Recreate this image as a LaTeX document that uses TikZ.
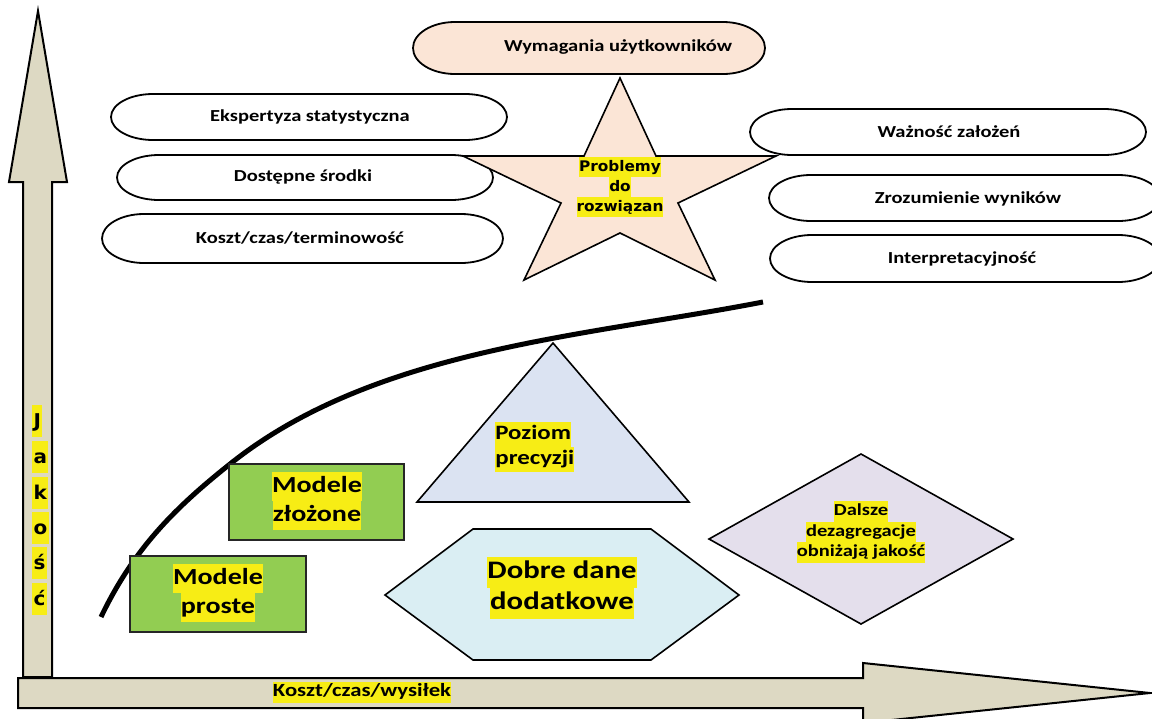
\documentclass[tikz,border=0pt]{standalone}
\usepackage{fontspec}
\newfontfamily\calfont[FakeStretch=1.22]{Carlito}
\newfontfamily\verfont[FakeStretch=1.05]{DejaVu Sans}
\definecolor{axisfill}{RGB}{221,217,195}
\definecolor{peach}{RGB}{251,229,214}
\definecolor{grn}{RGB}{146,205,82}
\definecolor{tric}{RGB}{219,227,242}
\definecolor{hexc}{RGB}{218,238,243}
\definecolor{diac}{RGB}{228,223,236}
\definecolor{hl}{RGB}{247,237,21}
\setlength\fboxsep{0pt}
\newcommand\hlt[1]{\colorbox{hl}{\strut #1}}
\newcommand\ovalpath[5]{%
  \filldraw[ovalline, fill=#5] ({#1+42},#2) -- ({#3-42},#2)
    arc[start angle=-90, end angle=90, x radius=42, y radius={(#4-#2)/2}]
    -- ({#1+42},#4)
    arc[start angle=90, end angle=270, x radius=42, y radius={(#4-#2)/2}]
    -- cycle;}
\tikzset{
  ovalline/.style={draw=black, line width=0.9pt},
  shapeline/.style={draw=black, line width=0.8pt},
  boxline/.style={draw=black!85, line width=1pt},
  axisline/.style={draw=black, line width=1pt, line join=miter},
  ovaltext/.style={inner sep=0pt, font=\calfont\bfseries\fontsize{8.4}{10}\selectfont},
  startext/.style={inner sep=0pt, align=center, font=\verfont\bfseries\fontsize{7.3}{10}\selectfont},
  modeltext/.style={inner sep=0pt, align=center, font=\calfont\bfseries\fontsize{11.5}{14.5}\selectfont},
  jletter/.style={inner xsep=0.6pt, inner ysep=0pt, fill=hl, text height=11pt, text depth=5pt, anchor=west, font=\verfont\bfseries\fontsize{9.5}{11}\selectfont},
}
\begin{document}
\begin{tikzpicture}[x=0.5pt, y=-0.5pt]
\useasboundingbox (0,0) rectangle (1152,718);
\clip (0,0) rectangle (1152,718);
\fill[white] (0,0) rectangle (1152,718);

% axes
\filldraw[axisline, fill=axisfill] (23,677) -- (23,182) -- (9,182) -- (38,11) -- (67,182) -- (52,182) -- (52,677) -- cycle;
\filldraw[axisline, fill=axisfill] (18,678) -- (863,678) -- (863,663) -- (1150,693) -- (863,723) -- (863,708) -- (18,708) -- cycle;
\node[inner sep=0pt, font=\calfont\bfseries\fontsize{9.3}{10.5}\selectfont] (xlab) at (362,692.5) {\hlt{Koszt/czas/wysiłek}};
\node[jletter] (j1) at (32,421) {J};
\node[jletter] (j2) at (32,457) {a};
\node[jletter] (j3) at (32,493) {k};
\node[jletter] (j4) at (32,528) {o};
\node[jletter] (j5) at (32,563) {ś};
\node[jletter] (j6) at (32,599) {ć};

% ovals
\ovalpath{413}{22}{765}{74}{peach}
\node[ovaltext] (wym) at (618,47) {Wymagania użytkowników};
\ovalpath{111}{94}{507}{140}{white}
\node[ovaltext] (eks) at (310,117) {Ekspertyza statystyczna};
\ovalpath{117}{155}{493}{200}{white}
\node[ovaltext] (dos) at (303,177) {Dostępne środki};
\ovalpath{102}{214}{503}{263}{white}
\node[ovaltext] (kos) at (300,238) {Koszt/czas/terminowość};
\ovalpath{750}{109}{1146}{155}{white}
\node[ovaltext] (waz) at (949,132) {Ważność założeń};
\ovalpath{769}{175}{1160}{221}{white}
\node[ovaltext] (zro) at (968,199) {Zrozumienie wyników};
\ovalpath{770}{235}{1160}{282}{white}
\node[ovaltext] (int) at (962,259) {Interpretacyjność};

% star
\filldraw[shapeline, fill=peach] (620,78) -- (656,156) -- (776,156) -- (678,203) -- (715,280) -- (620,233) -- (524,280) -- (561,203) -- (463,156) -- (584,156) -- cycle;
\node[startext] (prob) at (620,187) {\hlt{Problemy}\\\hlt{do}\\\hlt{rozwiązan}};

% curve
\coordinate (c0) at (101,617);
\coordinate (c1) at (230,464);
\coordinate (c2) at (763,302);
\draw[line width=2.5pt] (c0) .. controls (134,548) and (176,507) .. (c1)
  .. controls (374,349) and (582,337) .. (c2);

% boxes
\filldraw[boxline, fill=grn] (130,556) rectangle (306,632);
\node[modeltext] (mp) at (218,593) {\hlt{Modele}\\\hlt{proste}};
\filldraw[boxline, fill=grn] (229,464) rectangle (404,540);
\node[modeltext] (mz) at (317,501) {\hlt{Modele}\\\hlt{złożone}};

% triangle
\filldraw[shapeline, fill=tric] (553,343) -- (689,502) -- (417,502) -- cycle;
\node[inner sep=0pt, align=left, anchor=north west, font=\calfont\bfseries\fontsize{10.2}{12.5}\selectfont] (poz) at (495,422) {\hlt{Poziom}\\\hlt{precyzji}};

% hexagon
\filldraw[shapeline, fill=hexc] (385,595) -- (473,529) -- (651,529) -- (739,595) -- (651,660) -- (473,660) -- cycle;
\node[inner sep=0pt, align=center, font=\calfont\bfseries\fontsize{12.6}{15.5}\selectfont] (dob) at (562,588) {\hlt{Dobre dane}\\\hlt{dodatkowe}};

% diamond
\filldraw[shapeline, fill=diac] (861,454) -- (1013,539) -- (861,624) -- (709,539) -- cycle;
\node[inner sep=0pt, align=center, font=\calfont\bfseries\fontsize{8.4}{10.2}\selectfont] (dal) at (861,532) {\hlt{Dalsze}\\\hlt{dezagregacje}\\\hlt{obniżają jakość}};
\end{tikzpicture}
\end{document}
